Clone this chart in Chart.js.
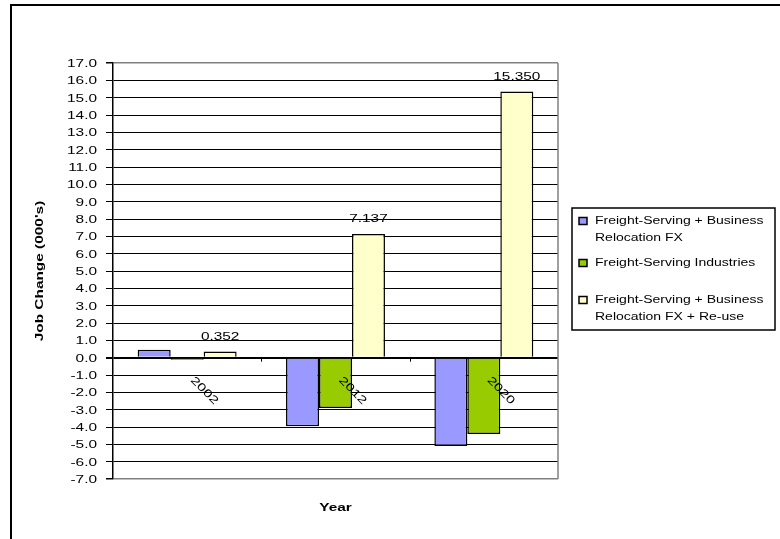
<!DOCTYPE html>
<html>
<head>
<meta charset="utf-8">
<script src="https://cdn.jsdelivr.net/npm/chart.js@4/dist/chart.umd.min.js"></script>
<style>
  html, body { margin: 0; padding: 0; background: #ffffff; }
  #wrap { width: 780px; height: 539px; }
</style>
</head>
<body>
<div id="wrap"><canvas id="c" width="780" height="539"></canvas></div>
<script>
// Job change by year for three freight scenarios (thousands of jobs)
const years = ['2002', '2012', '2020'];
const seriesNames = [
  ['Freight-Serving + Business', 'Relocation FX'],
  ['Freight-Serving Industries'],
  ['Freight-Serving + Business', 'Relocation FX + Re-use']
];
const relocationFx = [0.45, -3.95, -5.1];
const freightIndustries = [-0.12, -2.9, -4.4];
const relocationReuse = [0.352, 7.137, 15.35];
const seriesColors = ['#9999FF', '#99CC00', '#FFFFCC'];
const yMin = -7, yMax = 17, yStep = 1;

const FONT = '"Liberation Sans", Arial, sans-serif';
const STRETCH = 1.4; // wide lettering along the baseline

// text drawn with glyphs widened along their own baseline
function wideText(ctx, str, x, y, align, font, angle) {
  ctx.save();
  ctx.translate(x, y);
  if (angle) ctx.rotate(angle);
  ctx.scale(STRETCH, 1);
  ctx.font = font;
  ctx.fillStyle = '#000';
  ctx.textAlign = align;
  ctx.textBaseline = 'middle';
  ctx.fillText(str, 0, 0);
  ctx.restore();
}

const decorations = {
  id: 'decorations',
  afterDraw(chart) {
    const ctx = chart.ctx;
    const area = chart.chartArea;
    const xs = chart.scales.x, ys = chart.scales.y;
    const zeroY = ys.getPixelForValue(0);

    // right edge of the plot frame
    ctx.save();
    ctx.strokeStyle = '#808080';
    ctx.lineWidth = 1.5;
    ctx.beginPath();
    ctx.moveTo(area.right, area.top);
    ctx.lineTo(area.right, area.bottom);
    ctx.stroke();
    ctx.restore();

    // y tick labels
    ys.ticks.forEach((t, i) => {
      const y = ys.getPixelForTick(i);
      wideText(ctx, t.value.toFixed(1), area.left - 16, y + 1, 'right', '11px ' + FONT);
    });

    // category tick marks on the zero line
    ctx.save();
    ctx.strokeStyle = '#000';
    ctx.lineWidth = 1;
    for (let i = 1; i < years.length; i++) {
      const x = Math.round((xs.getPixelForValue(i - 1) + xs.getPixelForValue(i)) / 2) + 0.5;
      ctx.beginPath();
      ctx.moveTo(x, zeroY);
      ctx.lineTo(x, zeroY + 4);
      ctx.stroke();
    }
    ctx.restore();

    // rotated category labels hanging below the zero line
    years.forEach((yr, i) => {
      wideText(ctx, yr, xs.getPixelForValue(i) + 5, zeroY + 21, 'left', '11px ' + FONT, Math.PI / 4);
    });

    // value labels above the re-use bars
    const meta = chart.getDatasetMeta(2);
    meta.data.forEach((bar, i) => {
      wideText(ctx, relocationReuse[i].toFixed(3), bar.x, bar.y - 15, 'center', '11px ' + FONT);
    });

    // axis titles
    wideText(ctx, 'Year', (area.left + area.right) / 2, 508, 'center', 'bold 11px ' + FONT);
    wideText(ctx, "Job Change (000's)", 40, (area.top + area.bottom) / 2, 'center', 'bold 11px ' + FONT, -Math.PI / 2);

    // legend
    ctx.save();
    ctx.strokeStyle = '#000';
    ctx.lineWidth = 1.5;
    ctx.strokeRect(572, 208, 203, 122);
    const lineYs = [[221, 238], [263], [300, 317]];
    seriesNames.forEach((lines, s) => {
      const y0 = lineYs[s][0];
      ctx.fillStyle = seriesColors[s];
      ctx.fillRect(579, y0 - 3.5, 8, 7);
      ctx.lineWidth = 1.5;
      ctx.strokeRect(579, y0 - 3.5, 8, 7);
      lines.forEach((ln, k) => {
        wideText(ctx, ln, 595, lineYs[s][k], 'left', '10px ' + FONT);
      });
    });
    ctx.restore();

    // outer frame
    ctx.save();
    ctx.strokeStyle = '#000';
    ctx.lineWidth = 2;
    ctx.strokeRect(11, 5, 820, 600);
    ctx.restore();
  }
};

const makeSet = (label, data, color) => ({
  label: label,
  data: data,
  backgroundColor: color,
  borderColor: '#000000',
  borderWidth: 1.5,
  categoryPercentage: 0.667,
  barPercentage: 1.0
});

new Chart(document.getElementById('c'), {
  type: 'bar',
  data: {
    labels: years,
    datasets: [
      makeSet(seriesNames[0].join(' '), relocationFx, seriesColors[0]),
      makeSet(seriesNames[1].join(' '), freightIndustries, seriesColors[1]),
      makeSet(seriesNames[2].join(' '), relocationReuse, seriesColors[2])
    ]
  },
  options: {
    responsive: false,
    devicePixelRatio: 1,
    animation: false,
    layout: { padding: { left: 0, top: 63, right: 222, bottom: 60 } },
    plugins: { legend: { display: false }, tooltip: { enabled: false } },
    scales: {
      x: { display: false },
      y: {
        min: yMin,
        max: yMax,
        ticks: { display: false, stepSize: yStep },
        afterFit(scale) { scale.width = 113; },
        border: { display: true, color: '#000000', width: 1.5 },
        grid: {
          drawTicks: true,
          tickLength: 7,
          color: (c) => (c.tick && (c.tick.value === yMax || c.tick.value === yMin)) ? '#808080' : '#000000',
          tickColor: '#000000',
          lineWidth: (c) => {
            if (!c.tick) return 1;
            if (c.tick.value === 0) return 2;
            if (c.tick.value === yMax || c.tick.value === yMin) return 1.5;
            return 1;
          }
        }
      }
    }
  },
  plugins: [decorations]
});
</script>
</body>
</html>
